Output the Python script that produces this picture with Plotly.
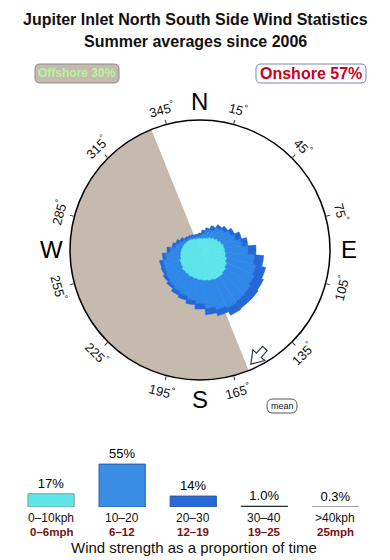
import math
import plotly.graph_objects as go

W, H = 390, 560

# ---------------- data ----------------
directions = list(range(0, 360, 10))  # wind-from bearing of each rose sector (deg)
# radial length of each speed class per direction (rose units, circle edge = 13)
speed_0_10 = [1.2, 1.2, 1.3, 1.4, 1.6, 1.8, 2.0, 2.2, 2.4, 2.5, 2.6, 2.8,
              3.0, 3.2, 3.3, 3.3, 3.2, 3.1, 3.0, 2.9, 2.8, 2.7, 2.6, 2.4,
              2.3, 2.1, 2.0, 1.9, 1.8, 1.7, 1.6, 1.5, 1.4, 1.3, 1.2, 1.2]
speed_10_20 = [0.3, 0.5, 0.8, 0.9, 1.2, 1.2, 1.4, 1.5, 1.8, 2.3, 2.9, 3.0,
               3.0, 3.0, 3.0, 3.1, 3.0, 2.8, 2.4, 2.2, 2.0, 1.9, 1.8, 1.8,
               1.7, 1.8, 1.5, 1.1, 0.7, 0.5, 0.3, 0.2, 0.2, 0.2, 0.2, 0.2]
speed_20_30 = [0.2, 0.3, 0.2, 0.4, 0.3, 0.4, 0.4, 0.6, 0.6, 0.8, 0.9, 1.0,
               1.0, 0.9, 0.8, 0.8, 0.6, 0.6, 0.5, 0.4, 0.4, 0.4, 0.3, 0.3,
               0.3, 0.3, 0.3, 0.3, 0.3, 0.3, 0.3, 0.2, 0.2, 0.2, 0.2, 0.2]
R_MAX = 13.0

bins_kph = ["0–10kph", "10–20", "20–30", "30–40", ">40kph"]
bins_mph = ["0–6mph", "6–12", "12–19", "19–25", "25mph"]
share = [17, 55, 14, 1.0, 0.3]
share_text = ["17%", "55%", "14%", "1.0%", "0.3%"]

offshore_pct = 30
onshore_pct = 57
offshore_from, offshore_to = 158, 338   # bearing range of the offshore sector
mean_dir = 156
label_bearings = [15, 45, 75, 105, 135, 165, 195, 225, 255, 285, 315, 345]
compass = [("N", 0), ("E", 90), ("S", 180), ("W", 270)]

# ---------------- styles ----------------
C_CYAN = "#5ce6ea"
C_MID = "#2f88e8"
C_DARK = "#2468d8"
C_BEIGE = "#c5baad"
FONT = "Liberation Sans, Arial, sans-serif"

cx, cy, R = 200, 250, 130  # rose circle in pixels


def px(x, y):
    return x / W, 1 - y / H


fig = go.Figure()

# offshore sector
width_off = (offshore_to - offshore_from) % 360
fig.add_trace(go.Barpolar(
    r=[R_MAX], theta=[offshore_from + width_off / 2], width=[width_off],
    marker=dict(color=C_BEIGE, line=dict(width=0)), hoverinfo="skip",
    showlegend=False))

base1 = speed_0_10
base2 = [a + b for a, b in zip(speed_0_10, speed_10_20)]
for vals, base, col in [(speed_0_10, [0] * len(directions), C_CYAN),
                        (speed_10_20, base1, C_MID),
                        (speed_20_30, base2, C_DARK)]:
    fig.add_trace(go.Barpolar(
        r=vals, base=base, theta=directions, width=[10] * len(directions),
        marker=dict(color=col, line=dict(color=col, width=0.5)),
        showlegend=False))

# ---------------- bar chart ----------------
fig.add_trace(go.Bar(
    x=list(range(len(share))), y=share, text=share_text,
    textposition="outside", cliponaxis=False,
    textfont=dict(size=13, color="black", family=FONT),
    marker=dict(color=[C_CYAN, "#3a8ee6", "#2a6ad6", "#1d3f8c", "#9a9a9a"],
                line=dict(color=["#8a9a9a", "#2a5aa0", "#2a5aa0", "#222222", "#999999"],
                          width=1)),
    xaxis="x", yaxis="y", showlegend=False))

layout_shapes = []


def rrect(x0, y0, x1, y1, r, fill, line):
    P = lambda x, y: "%.5f,%.5f" % px(x, y)
    d = ("M " + P(x0 + r, y0) + " L " + P(x1 - r, y0) + " Q " + P(x1, y0) + " " + P(x1, y0 + r) +
         " L " + P(x1, y1 - r) + " Q " + P(x1, y1) + " " + P(x1 - r, y1) +
         " L " + P(x0 + r, y1) + " Q " + P(x0, y1) + " " + P(x0, y1 - r) +
         " L " + P(x0, y0 + r) + " Q " + P(x0, y0) + " " + P(x0 + r, y0) + " Z")
    return dict(type="path", xref="paper", yref="paper", path=d,
                fillcolor=fill, line=dict(color=line, width=1), layer="above")


layout_shapes.append(rrect(35, 64, 119, 83, 5, C_BEIGE, "#8a8a8a"))
layout_shapes.append(rrect(256, 64, 366, 83, 5, "white", "#6f8db0"))
layout_shapes.append(rrect(267, 399, 297, 413, 6, "white", "#555555"))

# mean direction arrow near the rim
b = math.radians(mean_dir)
rad = (math.sin(b), -math.cos(b))
tan = (math.cos(b), math.sin(b))
u = (tan[0] + 0.45 * rad[0], tan[1] + 0.45 * rad[1])
n = math.hypot(*u)
u = (u[0] / n, u[1] / n)
p = (-u[1], u[0])
tip = (cx + (R - 5) * rad[0], cy + (R - 5) * rad[1])
local = [(0, 0), (-12, 8), (-12, 3.2), (-21, 3.2), (-21, -3.2), (-12, -3.2), (-12, -8)]
pts = [(tip[0] + a * u[0] + q * p[0], tip[1] + a * u[1] + q * p[1]) for a, q in local]
path = "M " + " L ".join("%.5f,%.5f" % px(x, y) for x, y in pts) + " Z"
layout_shapes.append(dict(type="path", xref="paper", yref="paper", path=path,
                          fillcolor="white", line=dict(color="#2a3a4a", width=1.2),
                          layer="above"))

ann = []
ann.append(dict(x=px(195, 20)[0], y=px(195, 20)[1], text="<b>Jupiter Inlet North South Side Wind Statistics</b>",
                font=dict(size=16, color="#111111", family=FONT)))
ann.append(dict(x=px(195, 42)[0], y=px(195, 42)[1], text="<b>Summer averages since 2006</b>",
                font=dict(size=16, color="#111111", family=FONT)))
ann.append(dict(x=px(77, 73.5)[0], y=px(77, 73.5)[1], text=f"<b>Offshore {offshore_pct}%</b>",
                font=dict(size=12, color="#b4f4a4", family=FONT)))
ann.append(dict(x=px(311, 73.5)[0], y=px(311, 73.5)[1], text=f"<b>Onshore {onshore_pct}%</b>",
                font=dict(size=16, color="#cc0020", family=FONT)))
ann.append(dict(x=px(282, 406)[0], y=px(282, 406)[1], text="mean",
                font=dict(size=9, color="#111111", family=FONT)))
ann.append(dict(x=px(194, 547)[0], y=px(194, 547)[1], text="Wind strength as a proportion of time",
                font=dict(size=15, color="#111111", family=FONT), borderpad=0))

# bar category labels: two tight rows
for i, (k, m) in enumerate(zip(bins_kph, bins_mph)):
    ann.append(dict(x=i, xref="x", y=px(0, 518)[1], yref="paper", text=k, borderpad=0,
                    font=dict(size=12, color="#111111", family=FONT)))
    ann.append(dict(x=i, xref="x", y=px(0, 532)[1], yref="paper", text=f"<b>{m}</b>", borderpad=0,
                    font=dict(size=11.5, color="#7a1010", family=FONT)))

for bb in label_bearings:
    t = math.radians(bb)
    x, y = cx + 146 * math.sin(t), cy - 146 * math.cos(t)
    ang = bb if (bb < 90 or bb > 270) else bb - 180
    ann.append(dict(x=px(x, y)[0], y=px(x, y)[1], text=f"{bb}<sup>°</sup>",
                    textangle=ang, font=dict(size=13, color="#111111", family=FONT)))
for lab, bb in compass:
    t = math.radians(bb)
    x, y = cx + 149 * math.sin(t), cy - 149 * math.cos(t)
    ann.append(dict(x=px(x, y)[0], y=px(x, y)[1], text=lab,
                    font=dict(size=24, color="black", family=FONT)))

for a in ann:
    a.setdefault("xref", "paper")
    a.setdefault("yref", "paper")
    a.update(showarrow=False, xanchor="center", yanchor="middle")

fig.update_layout(
    width=W, height=H, margin=dict(l=0, r=0, t=0, b=0),
    paper_bgcolor="white", plot_bgcolor="white",
    font=dict(family=FONT, color="black"),
    polar=dict(
        domain=dict(x=[(cx - R) / W, (cx + R) / W], y=[1 - (cy + R) / H, 1 - (cy - R) / H]),
        bgcolor="white", barmode="overlay", bargap=0,
        radialaxis=dict(range=[0, R_MAX], visible=False),
        angularaxis=dict(rotation=90, direction="clockwise", showgrid=False,
                         showline=True, linecolor="black", linewidth=1.5,
                         ticks="outside", ticklen=4, tickwidth=1, tickcolor="#333333",
                         tickvals=label_bearings, showticklabels=False),
    ),
    xaxis=dict(domain=[15.5 / W, 371 / W], range=[-0.5, 4.5], showticklabels=False,
               showgrid=False, zeroline=False, showline=False, ticks="", fixedrange=True),
    yaxis=dict(domain=[53 / H, (53 + 0.78 * 60) / H], range=[0, 60], visible=False,
               fixedrange=True),
    bargap=0.35,
    shapes=layout_shapes,
    annotations=ann,
    showlegend=False,
)

fig.write_html("out.html")
